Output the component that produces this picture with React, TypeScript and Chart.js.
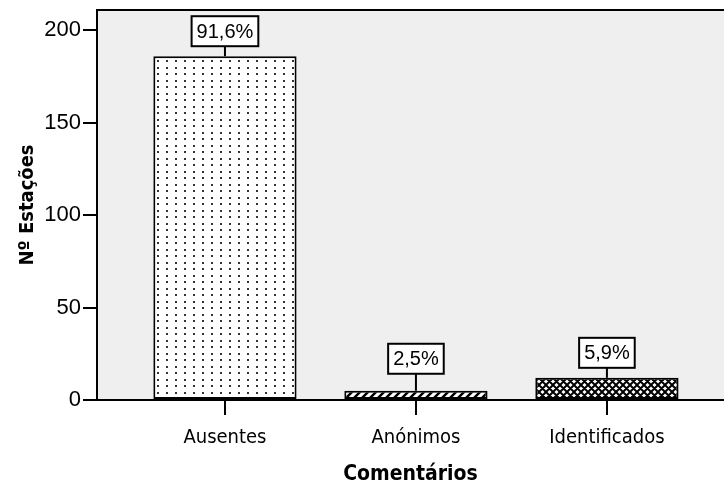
import React, { useEffect, useRef } from "react";
import { Chart, registerables } from "chart.js";

Chart.register(...registerables);

const categories = ["Ausentes", "Anónimos", "Identificados"];
const counts = [186, 5, 12];
const yTicks = [0, 50, 100, 150, 200];
const stemLengths = [10, 17, 10];

const COND = "'DejaVu Sans Condensed', 'Liberation Sans', sans-serif";

function makePattern(kind: string): CanvasPattern | string {
  const c = document.createElement("canvas");
  const ctx = c.getContext("2d")!;
  if (kind === "dots") {
    c.width = 9;
    c.height = 13;
    ctx.fillStyle = "#ffffff";
    ctx.fillRect(0, 0, 9, 13);
    ctx.fillStyle = "#333333";
    ctx.fillRect(4, 2, 2, 2);
    ctx.fillRect(4, 8, 2, 2);
  } else if (kind === "hatch") {
    c.width = 8;
    c.height = 8;
    ctx.fillStyle = "#ffffff";
    ctx.fillRect(0, 0, 8, 8);
    ctx.strokeStyle = "#000";
    ctx.lineWidth = 2.5;
    ctx.beginPath();
    ctx.moveTo(-1, 9);
    ctx.lineTo(9, -1);
    ctx.moveTo(-5, 5);
    ctx.lineTo(5, -5);
    ctx.moveTo(3, 13);
    ctx.lineTo(13, 3);
    ctx.stroke();
  } else {
    c.width = 7;
    c.height = 7;
    ctx.fillStyle = "#ffffff";
    ctx.fillRect(0, 0, 7, 7);
    ctx.strokeStyle = "#000";
    ctx.lineWidth = 2;
    ctx.beginPath();
    for (let k = -7; k <= 14; k += 7) {
      ctx.moveTo(k - 1, -1);
      ctx.lineTo(k + 8, 8);
      ctx.moveTo(k + 8, -1);
      ctx.lineTo(k - 1, 8);
    }
    ctx.stroke();
  }
  return ctx.createPattern(c, "repeat") || "#fff";
}

export default function App() {
  const ref = useRef<HTMLCanvasElement>(null);
  useEffect(() => {
    document.body.style.margin = "0";
    const canvas = ref.current!;
    const total = counts.reduce((a, b) => a + b, 0);
    const pctLabels = counts.map(
      (v) => (Math.round((v / total) * 1000) / 10).toFixed(1).replace(".", ",") + "%"
    );
    const fills = [makePattern("dots"), makePattern("hatch"), makePattern("cross")];

    const framePlugin = {
      id: "frame",
      beforeDraw(chart: any) {
        const { ctx, chartArea } = chart;
        ctx.save();
        ctx.fillStyle = "#efefef";
        ctx.fillRect(chartArea.left, chartArea.top, chartArea.right - chartArea.left, chartArea.bottom - chartArea.top);
        ctx.restore();
      },
      afterDraw(chart: any) {
        const { ctx, chartArea } = chart;
        ctx.save();
        ctx.strokeStyle = "#000";
        ctx.lineWidth = 2;
        ctx.beginPath();
        ctx.moveTo(chartArea.left - 1, chartArea.top);
        ctx.lineTo(chartArea.right, chartArea.top);
        ctx.stroke();
        ctx.restore();
      },
    };

    const labelPlugin = {
      id: "boxLabels",
      afterDatasetsDraw(chart: any) {
        const { ctx } = chart;
        const meta = chart.getDatasetMeta(0);
        ctx.save();
        ctx.font = "20px 'Liberation Sans'";
        meta.data.forEach((bar: any, i: number) => {
          const x = bar.x;
          const top = bar.y;
          const stem = stemLengths[i];
          const text = pctLabels[i];
          const w = ctx.measureText(text).width + 10;
          const h = 30;
          const bottom = top - stem;
          ctx.strokeStyle = "#000";
          ctx.lineWidth = 2;
          ctx.beginPath();
          ctx.moveTo(x, top);
          ctx.lineTo(x, bottom);
          ctx.stroke();
          ctx.fillStyle = "#fff";
          ctx.fillRect(x - w / 2, bottom - h, w, h);
          ctx.strokeRect(x - w / 2, bottom - h, w, h);
          ctx.fillStyle = "#000";
          ctx.textAlign = "center";
          ctx.textBaseline = "middle";
          ctx.fillText(text, x, bottom - h / 2 + 1);
        });
        ctx.restore();
      },
    };

    const chart = new Chart(canvas, {
      type: "bar",
      data: {
        datasets: [
          {
            data: counts.map((v, i) => ({ x: i, y: v })),
            backgroundColor: fills as any,
            borderColor: "#000",
            borderWidth: 2,
            borderSkipped: false,
            categoryPercentage: 1,
            barPercentage: 0.75,
          },
        ],
      },
      options: {
        responsive: false,
        animation: false,
        layout: { padding: { top: 10, left: 0, right: 0, bottom: 0 } },
        plugins: { legend: { display: false }, tooltip: { enabled: false } },
        scales: {
          x: {
            type: "linear",
            offset: false,
            min: -0.67,
            max: 2.613,
            afterBuildTicks(scale: any) {
              scale.ticks = categories.map((_, i) => ({ value: i }));
            },
            afterFit(scale: any) {
              scale.height = 89;
              scale.paddingLeft = 0;
              scale.paddingRight = 0;
            },
            ticks: {
              callback: (v: any) => categories[v as number],
              color: "#000",
              font: { family: COND, size: 20 },
              padding: 11,
              maxRotation: 0,
              autoSkip: false,
            },
            grid: { offset: false, drawOnChartArea: false, color: "#000", lineWidth: 2, tickLength: 15 },
            border: { color: "#000", width: 2 },
            title: {
              display: true,
              text: "Comentários",
              color: "#000",
              font: { family: COND, size: 21, weight: "bold" },
              padding: { top: 0, bottom: 2 },
            },
          },
          y: {
            min: 0,
            max: 211,
            afterBuildTicks(scale: any) {
              scale.ticks = yTicks.map((v) => ({ value: v }));
            },
            afterFit(scale: any) {
              scale.width = 97;
              scale.paddingTop = 0;
              scale.paddingBottom = 0;
            },
            ticks: {
              color: "#000",
              font: { family: "'Liberation Sans'", size: 22 },
              padding: 2,
            },
            grid: { drawOnChartArea: false, color: "#000", lineWidth: 2, tickLength: 14 },
            border: { color: "#000", width: 2 },
            title: {
              display: true,
              text: "Nº Estações",
              color: "#000",
              font: { family: COND, size: 20, weight: "bold" },
              padding: { top: 16, bottom: 0 },
            },
          },
        },
      },
      plugins: [framePlugin, labelPlugin],
    } as any);
    return () => chart.destroy();
  }, []);
  return <canvas ref={ref} width={724} height={489} style={{ display: "block" }} />;
}
